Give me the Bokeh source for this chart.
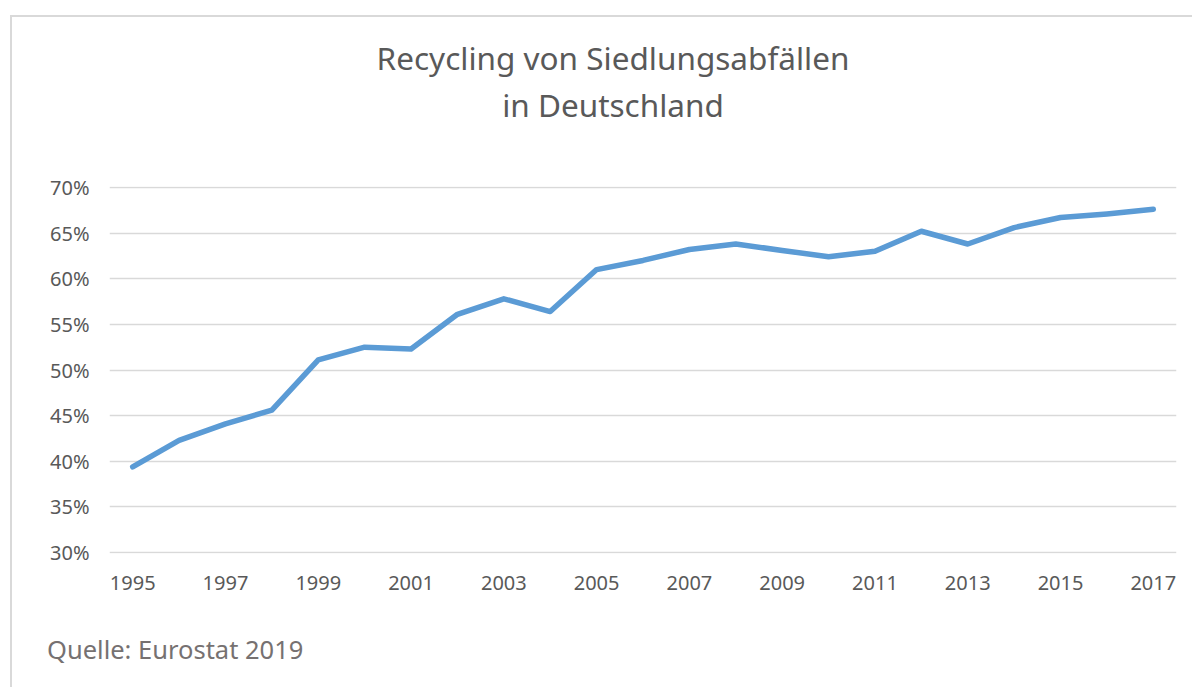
from bokeh.plotting import figure
from bokeh.models import Range1d, FixedTicker, PrintfTickFormatter, Div
from bokeh.layouts import column
from bokeh.embed import file_html
from bokeh.resources import INLINE

years = list(range(1995, 2018))
recycling = [39.4, 42.3, 44.1, 45.6, 51.1, 52.5, 52.3, 56.1, 57.8, 56.4, 61.0,
             62.0, 63.2, 63.8, 63.1, 62.4, 63.0, 65.2, 63.8, 65.6, 66.7, 67.1, 67.6]
x_ticks = list(range(1995, 2018, 2))
y_ticks = [30, 35, 40, 45, 50, 55, 60, 65, 70]
title_lines = ["Recycling von Siedlungsabfällen", "in Deutschland"]
source_text = "Quelle: Eurostat 2019"

FONT = "Noto Sans"
W = 1180

title_div = Div(
    text=('<div style="box-sizing:border-box;width:%dpx;padding-left:22px;padding-top:17px;'
          'text-align:center;font-family:\'Noto Sans\';font-size:31.5px;line-height:47px;'
          'color:#595959;white-space:nowrap">%s<br>%s</div>') % (W, title_lines[0], title_lines[1]),
    width=W, height=113, margin=0)

p = figure(width=W, height=490, output_backend="svg", toolbar_location=None,
           x_range=Range1d(1994.5, 2017.5), y_range=Range1d(29.9, 70.1),
           min_border_left=97, min_border_right=16, min_border_top=56, min_border_bottom=67,
           margin=0)
p.outline_line_color = None
p.background_fill_color = "white"
p.border_fill_color = "white"

p.line(years, recycling, line_color="#5b9bd5", line_width=5.5, line_cap="round", line_join="round")

for ax in (p.xaxis[0], p.yaxis[0]):
    ax.axis_line_color = None
    ax.major_tick_line_color = None
    ax.minor_tick_line_color = None
    ax.major_label_text_font = FONT
    ax.major_label_text_color = "#595959"
    ax.major_label_text_font_size = "20px"

p.xaxis.ticker = FixedTicker(ticks=x_ticks)
p.yaxis.ticker = FixedTicker(ticks=y_ticks)
p.yaxis.formatter = PrintfTickFormatter(format="%d%%")
p.xaxis.major_label_standoff = 16
p.yaxis.major_label_standoff = 14

p.xgrid.grid_line_color = None
p.ygrid.grid_line_color = "#d9d9d9"
p.ygrid.grid_line_width = 1.5

src_div = Div(
    text=('<div style="padding-left:35px;padding-top:14px;font-family:\'Noto Sans\';'
          'font-size:25.5px;line-height:30px;color:#767171;white-space:nowrap">%s</div>') % source_text,
    width=W, height=67, margin=0)

layout = column(title_div, p, src_div, spacing=0,
                styles={"margin-left": "10px", "margin-top": "15px",
                        "border-left": "2px solid #d9d9d9", "border-top": "2px solid #d9d9d9"})

open("out.html", "w").write(file_html(layout, INLINE))
